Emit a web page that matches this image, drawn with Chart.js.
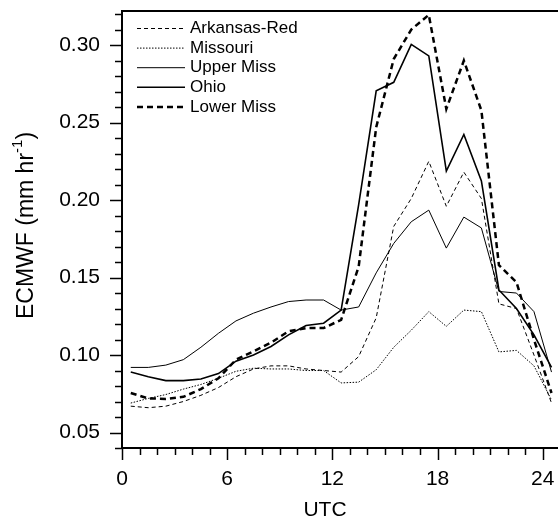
<!DOCTYPE html>
<html>
<head>
<meta charset="utf-8">
<script src="https://cdn.jsdelivr.net/npm/chart.js@4.4.1/dist/chart.umd.min.js"></script>
<style>
  html, body { margin: 0; padding: 0; background: #fff; }
  #wrap { width: 558px; height: 521px; }
</style>
</head>
<body>
<div id="wrap"><canvas id="chartEcmwf"></canvas></div>
<script>
// datos (hora UTC, media hora)
const hours = [0.5, 1.5, 2.5, 3.5, 4.5, 5.5, 6.5, 7.5, 8.5, 9.5, 10.5, 11.5, 12.5,
    13.5, 14.5, 15.5, 16.5, 17.5, 18.5, 19.5, 20.5, 21.5, 22.5, 23.5, 24.5];

const seriesNames = ["Arkansas-Red", "Missouri", "Upper Miss", "Ohio", "Lower Miss"];

const arkansasRed = [0.067, 0.066, 0.067, 0.070, 0.074, 0.079, 0.086, 0.091, 0.093, 0.093, 0.091, 0.090, 0.089,
    0.099, 0.124, 0.183, 0.201, 0.225, 0.196, 0.218, 0.201, 0.133, 0.130, 0.100, 0.069];
const missouri = [0.069, 0.072, 0.0745, 0.078, 0.081, 0.085, 0.0895, 0.0915, 0.091, 0.091, 0.090, 0.090, 0.082,
    0.0825, 0.0905, 0.105, 0.116, 0.128, 0.1185, 0.129, 0.128, 0.102, 0.103, 0.093, 0.071];
const upperMiss = [0.092, 0.092, 0.0935, 0.097, 0.105, 0.114, 0.122, 0.127, 0.131, 0.1345, 0.1355, 0.1355, 0.129,
    0.131, 0.153, 0.172, 0.186, 0.1935, 0.169, 0.189, 0.182, 0.141, 0.140, 0.128, 0.089];
const ohio = [0.089, 0.086, 0.0835, 0.0835, 0.0845, 0.088, 0.096, 0.100, 0.1055, 0.113, 0.119, 0.1205, 0.129,
    0.197, 0.2705, 0.276, 0.3005, 0.293, 0.2187, 0.2423, 0.2123, 0.142, 0.130, 0.113, 0.092];
const lowerMiss = [0.0755, 0.072, 0.0717, 0.073, 0.078, 0.085, 0.097, 0.1024, 0.108, 0.1153, 0.1174, 0.1174, 0.1227,
    0.157, 0.247, 0.291, 0.310, 0.3195, 0.2588, 0.290, 0.2578, 0.158, 0.147, 0.110, 0.0755];

const xTicks = [0, 6, 12, 18, 24];
const yTicks = [0.05, 0.10, 0.15, 0.20, 0.25, 0.30];

const FONT = "'Liberation Sans', Arial, sans-serif";

function toPoints(values) {
    return hours.map((h, i) => ({ x: h, y: values[i] }));
}

// ===========================
// estilos de linea (todo negro)
// ===========================
const styles = [
    { width: 1, dash: [4, 3] },
    { width: 1, dash: [1.5, 1.5] },
    { width: 1, dash: [] },
    { width: 1.6, dash: [] },
    { width: 2.5, dash: [6, 4] }
];
const allValues = [arkansasRed, missouri, upperMiss, ohio, lowerMiss];

const datasets = allValues.map((vals, i) => ({
    label: seriesNames[i],
    data: toPoints(vals),
    borderColor: "#000",
    borderWidth: styles[i].width,
    borderDash: styles[i].dash,
    pointRadius: 0,
    fill: false,
    tension: 0
}));

// ===========================
// ejes, marcas, leyenda y titulos
// ===========================
const framePlugin = {
    id: "frame",
    afterDraw(chart) {
        const { ctx, chartArea: a, scales: { x, y } } = chart;
        ctx.save();
        ctx.strokeStyle = "#000";
        ctx.fillStyle = "#000";

        // marcas del eje x
        ctx.lineWidth = 1.5;
        for (let h = 0; h <= 24; h++) {
            const px = Math.round(x.getPixelForValue(h)) + 0.5;
            const len = h % 6 === 0 ? 12 : 7;
            ctx.beginPath();
            ctx.moveTo(px, a.bottom);
            ctx.lineTo(px, a.bottom + len);
            ctx.stroke();
        }
        // marcas del eje y
        for (let k = 4; k <= 32; k++) {
            const py = Math.round(y.getPixelForValue(k / 100)) + 0.5;
            const len = k % 5 === 0 ? 12 : 7;
            ctx.beginPath();
            ctx.moveTo(a.left, py);
            ctx.lineTo(a.left - len, py);
            ctx.stroke();
        }

        // marco: izquierda, abajo, arriba
        ctx.lineWidth = 2;
        ctx.beginPath();
        ctx.moveTo(a.right, a.top);
        ctx.lineTo(a.left, a.top);
        ctx.lineTo(a.left, a.bottom);
        ctx.lineTo(a.right, a.bottom);
        ctx.stroke();

        // leyenda
        ctx.font = "17px " + FONT;
        ctx.textBaseline = "middle";
        ctx.textAlign = "left";
        chart.data.datasets.forEach((ds, i) => {
            const ly = 28.5 + i * 19.6;
            ctx.lineWidth = ds.borderWidth;
            ctx.setLineDash(ds.borderDash);
            ctx.beginPath();
            ctx.moveTo(137, ly);
            ctx.lineTo(185, ly);
            ctx.stroke();
            ctx.setLineDash([]);
            ctx.fillText(ds.label, 190, ly);
        });

        // titulo eje x
        ctx.font = "21px " + FONT;
        ctx.textAlign = "center";
        ctx.fillText("UTC", 325, 510);

        // titulo eje y con superindice
        ctx.translate(27, (a.top + a.bottom) / 2 - 4);
        ctx.rotate(-Math.PI / 2);
        const main = "ECMWF (mm hr";
        const sup = "-1";
        const close = ")";
        ctx.font = "23px " + FONT;
        const wMain = ctx.measureText(main).width;
        const wClose = ctx.measureText(close).width;
        ctx.font = "15px " + FONT;
        const wSup = ctx.measureText(sup).width;
        const total = wMain + wSup + wClose;
        let cx = -total / 2;
        ctx.textAlign = "left";
        ctx.font = "23px " + FONT;
        ctx.fillText(main, cx, 0);
        cx += wMain;
        ctx.font = "15px " + FONT;
        ctx.fillText(sup, cx, -9);
        cx += wSup;
        ctx.font = "23px " + FONT;
        ctx.fillText(close, cx, 0);
        ctx.restore();
    }
};

new Chart(document.getElementById("chartEcmwf").getContext("2d"), {
    type: "line",
    data: { datasets: datasets },
    options: {
        responsive: true,
        maintainAspectRatio: false,
        animation: false,
        layout: { padding: { top: 11, right: 0, left: 0, bottom: 0 } },
        plugins: {
            legend: { display: false },
            tooltip: { enabled: false }
        },
        scales: {
            x: {
                type: "linear",
                min: 0,
                max: 24.87,
                grid: { display: false, drawTicks: false },
                border: { display: false },
                afterFit(scale) {
                    scale.height = 73;
                    scale.paddingLeft = 0;
                    scale.paddingRight = 0;
                },
                ticks: {
                    stepSize: 1,
                    includeBounds: false,
                    autoSkip: false,
                    maxRotation: 0,
                    padding: 19,
                    color: "#000",
                    font: { family: FONT, size: 21 },
                    callback: v => xTicks.includes(v) ? String(v) : ""
                }
            },
            y: {
                type: "linear",
                min: 0.04,
                max: 0.322,
                grid: { display: false, drawTicks: false },
                border: { display: false },
                afterFit(scale) {
                    scale.width = 122;
                    scale.paddingTop = 0;
                    scale.paddingBottom = 0;
                },
                ticks: {
                    stepSize: 0.01,
                    includeBounds: false,
                    autoSkip: false,
                    padding: 22,
                    color: "#000",
                    font: { family: FONT, size: 21 },
                    callback: v => {
                        const t = yTicks.find(q => Math.abs(q - v) < 1e-6);
                        return t !== undefined ? t.toFixed(2) : "";
                    }
                }
            }
        }
    },
    plugins: [framePlugin]
});
</script>
</body>
</html>
